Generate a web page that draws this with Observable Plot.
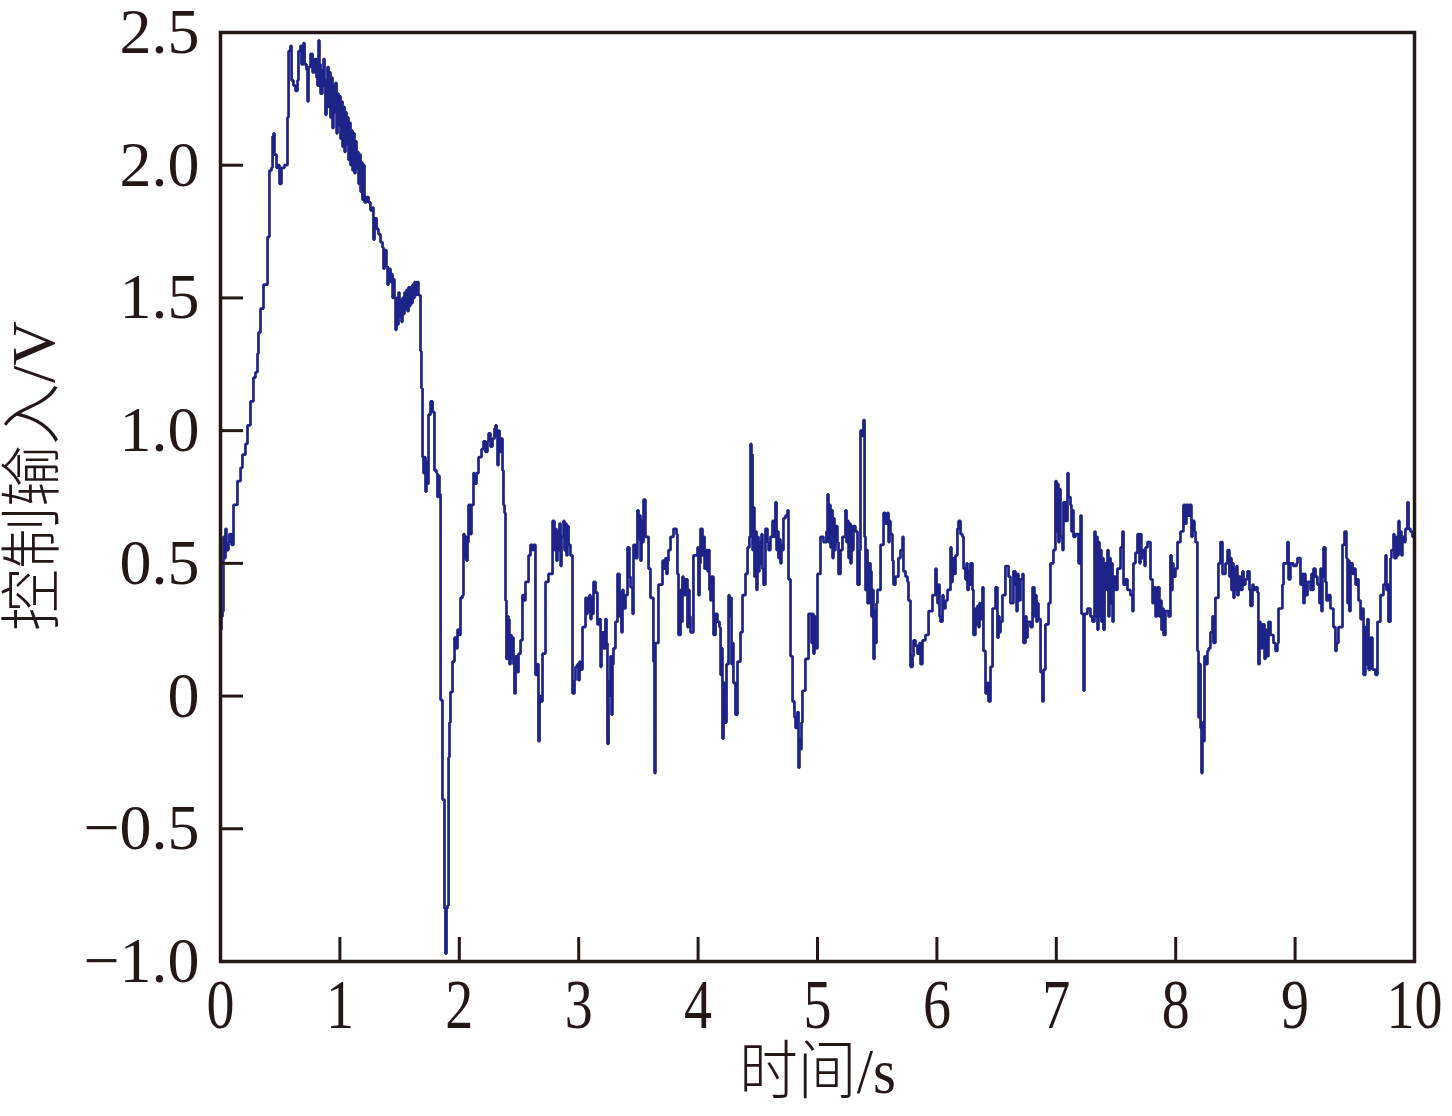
<!DOCTYPE html>
<html>
<head>
<meta charset="utf-8">
<script src="https://cdn.jsdelivr.net/npm/d3@7"></script>
<script src="https://cdn.jsdelivr.net/npm/@observablehq/plot@0.6"></script>
<style>
  html, body { margin: 0; padding: 0; background: #ffffff; overflow: hidden; }
  #chart svg { display: block; overflow: visible; }
</style>
</head>
<body>
<div id="chart"></div>
<script>
// time (s)
const time = [
  0,0.008,0.017,0.025,0.034,0.042,0.050,0.067,0.075,0.092,
  0.109,0.142,0.168,0.184,0.209,0.226,0.251,0.276,0.293,0.310,
  0.318,0.335,0.360,0.394,0.410,0.427,0.436,0.444,0.452,0.469,
  0.477,0.494,0.511,0.536,0.561,0.570,0.586,0.595,0.611,0.628,
  0.645,0.653,0.670,0.678,0.695,0.704,0.720,0.729,0.737,0.754,
  0.771,0.787,0.804,0.812,0.821,0.829,0.838,0.854,0.863,0.871,
  0.879,0.888,0.896,0.905,0.913,0.921,0.930,0.938,0.946,0.955,
  0.963,0.972,0.980,0.988,0.997,1.005,1.013,1.022,1.030,1.039,
  1.047,1.055,1.064,1.072,1.080,1.089,1.097,1.106,1.114,1.122,
  1.131,1.139,1.147,1.156,1.164,1.173,1.181,1.189,1.198,1.206,
  1.223,1.240,1.256,1.273,1.281,1.290,1.307,1.323,1.340,1.357,
  1.365,1.374,1.390,1.399,1.407,1.424,1.432,1.441,1.449,1.457,
  1.466,1.474,1.482,1.491,1.499,1.508,1.516,1.524,1.533,1.541,
  1.549,1.558,1.566,1.575,1.583,1.591,1.600,1.608,1.616,1.625,
  1.633,1.642,1.658,1.675,1.683,1.692,1.700,1.709,1.717,1.725,
  1.734,1.742,1.759,1.776,1.792,1.809,1.817,1.826,1.834,1.843,
  1.859,1.876,1.884,1.893,1.901,1.910,1.918,1.926,1.943,1.960,
  1.977,1.985,2.002,2.010,2.027,2.035,2.044,2.052,2.060,2.069,
  2.077,2.094,2.102,2.119,2.127,2.144,2.161,2.186,2.203,2.219,
  2.236,2.245,2.261,2.278,2.295,2.303,2.312,2.320,2.328,2.337,
  2.345,2.362,2.370,2.379,2.387,2.395,2.404,2.412,2.420,2.429,
  2.437,2.446,2.454,2.462,2.471,2.487,2.496,2.513,2.529,2.538,
  2.554,2.580,2.596,2.613,2.621,2.638,2.655,2.663,2.672,2.680,
  2.697,2.722,2.747,2.781,2.797,2.806,2.814,2.822,2.831,2.839,
  2.848,2.856,2.873,2.881,2.889,2.898,2.906,2.915,2.931,2.948,
  2.965,2.973,2.990,2.998,3.007,3.015,3.032,3.057,3.065,3.074,
  3.082,3.090,3.099,3.107,3.116,3.124,3.141,3.157,3.174,3.183,
  3.191,3.208,3.224,3.233,3.241,3.250,3.258,3.266,3.275,3.283,
  3.291,3.308,3.325,3.342,3.350,3.358,3.367,3.375,3.392,3.409,
  3.425,3.434,3.451,3.459,3.476,3.492,3.501,3.509,3.518,3.526,
  3.534,3.543,3.559,3.585,3.601,3.626,3.635,3.643,3.668,3.702,
  3.719,3.727,3.735,3.744,3.752,3.769,3.794,3.819,3.827,3.836,
  3.853,3.861,3.869,3.878,3.894,3.911,3.920,3.928,3.936,3.961,
  3.995,4.003,4.012,4.020,4.037,4.045,4.054,4.062,4.079,4.087,
  4.095,4.104,4.112,4.129,4.146,4.162,4.179,4.188,4.196,4.204,
  4.213,4.229,4.238,4.255,4.263,4.271,4.280,4.288,4.296,4.313,
  4.330,4.355,4.372,4.397,4.414,4.430,4.439,4.447,4.456,4.464,
  4.472,4.481,4.489,4.497,4.506,4.514,4.523,4.531,4.539,4.548,
  4.564,4.581,4.590,4.606,4.623,4.640,4.648,4.657,4.665,4.673,
  4.682,4.690,4.698,4.707,4.715,4.732,4.749,4.757,4.774,4.791,
  4.807,4.816,4.832,4.841,4.849,4.858,4.866,4.874,4.899,4.925,
  4.950,4.958,4.966,4.975,4.983,5.000,5.025,5.050,5.075,5.084,
  5.092,5.100,5.109,5.117,5.126,5.134,5.142,5.151,5.167,5.176,
  5.193,5.209,5.234,5.243,5.251,5.260,5.268,5.276,5.285,5.293,
  5.301,5.318,5.335,5.352,5.360,5.377,5.385,5.394,5.402,5.410,
  5.419,5.435,5.444,5.452,5.461,5.469,5.477,5.486,5.494,5.502,
  5.528,5.553,5.569,5.586,5.595,5.603,5.611,5.628,5.636,5.653,
  5.678,5.695,5.712,5.720,5.737,5.754,5.762,5.779,5.796,5.804,
  5.821,5.837,5.854,5.863,5.879,5.904,5.930,5.963,5.988,5.997,
  6.005,6.013,6.022,6.030,6.047,6.055,6.072,6.089,6.114,6.122,
  6.131,6.139,6.156,6.172,6.181,6.198,6.214,6.223,6.239,6.248,
  6.256,6.265,6.273,6.281,6.298,6.306,6.323,6.332,6.340,6.348,
  6.357,6.365,6.382,6.390,6.407,6.424,6.432,6.449,6.466,6.491,
  6.507,6.516,6.524,6.533,6.549,6.574,6.600,6.616,6.641,6.658,
  6.667,6.675,6.683,6.700,6.717,6.725,6.742,6.750,6.759,6.784,
  6.801,6.817,6.826,6.834,6.842,6.851,6.868,6.884,6.893,6.909,
  6.935,6.951,6.976,6.993,7.002,7.010,7.018,7.027,7.035,7.052,
  7.060,7.077,7.094,7.102,7.119,7.127,7.136,7.144,7.161,7.186,
  7.203,7.211,7.228,7.236,7.261,7.286,7.303,7.320,7.328,7.337,
  7.345,7.353,7.362,7.370,7.378,7.387,7.395,7.404,7.420,7.429,
  7.437,7.445,7.454,7.462,7.471,7.479,7.496,7.512,7.538,7.554,
  7.563,7.579,7.596,7.621,7.638,7.646,7.663,7.680,7.697,7.705,
  7.713,7.730,7.739,7.747,7.764,7.789,7.806,7.814,7.831,7.847,
  7.864,7.873,7.881,7.889,7.898,7.914,7.940,7.956,7.965,7.973,
  7.981,7.998,8.015,8.040,8.065,8.082,8.090,8.107,8.115,8.132,
  8.141,8.157,8.166,8.182,8.191,8.199,8.208,8.216,8.224,8.233,
  8.241,8.249,8.266,8.275,8.291,8.308,8.316,8.333,8.358,8.375,
  8.392,8.417,8.434,8.450,8.459,8.467,8.476,8.484,8.492,8.501,
  8.509,8.517,8.526,8.543,8.559,8.568,8.584,8.601,8.618,8.626,
  8.643,8.651,8.668,8.685,8.693,8.702,8.710,8.727,8.744,8.752,
  8.760,8.777,8.794,8.819,8.836,8.852,8.861,8.894,8.903,8.936,
  8.945,8.961,8.986,9.012,9.020,9.045,9.062,9.070,9.079,9.087,
  9.104,9.129,9.137,9.146,9.154,9.171,9.187,9.204,9.213,9.221,
  9.229,9.238,9.254,9.263,9.280,9.296,9.321,9.338,9.347,9.363,
  9.397,9.414,9.430,9.439,9.447,9.455,9.464,9.481,9.489,9.506,
  9.522,9.531,9.548,9.564,9.573,9.589,9.598,9.606,9.615,9.631,
  9.648,9.673,9.690,9.715,9.740,9.757,9.765,9.774,9.782,9.799,
  9.807,9.824,9.832,9.849,9.857,9.866,9.874,9.883,9.891,9.899,
  9.916,9.924,9.941,9.950,9.966,9.983,10.0
];
// control input (V)
const voltage = [
  0.25,0.30,0.32,0.60,0.52,0.63,0.55,0.58,0.61,0.57,
  0.72,0.81,0.86,0.91,0.95,1.02,1.11,1.20,1.22,1.29,
  1.37,1.46,1.55,1.73,1.98,1.99,2.11,2.12,2.04,1.99,
  2.00,1.93,1.99,2.00,2.18,2.43,2.45,2.32,2.30,2.28,
  2.32,2.43,2.45,2.38,2.46,2.38,2.36,2.24,2.37,2.42,
  2.35,2.40,2.33,2.30,2.47,2.38,2.27,2.36,2.40,2.30,
  2.19,2.32,2.37,2.22,2.35,2.18,2.33,2.14,2.30,2.20,
  2.31,2.12,2.27,2.15,2.26,2.10,2.24,2.07,2.22,2.05,
  2.20,2.08,2.18,2.02,2.16,2.00,2.13,1.98,2.12,1.97,
  2.09,1.99,2.05,1.93,2.04,1.90,2.01,1.87,2.00,1.86,
  1.88,1.86,1.83,1.84,1.72,1.80,1.76,1.74,1.71,1.69,
  1.61,1.68,1.62,1.55,1.61,1.56,1.59,1.50,1.57,1.50,
  1.38,1.50,1.40,1.52,1.43,1.49,1.41,1.50,1.44,1.52,
  1.46,1.53,1.45,1.54,1.47,1.54,1.48,1.55,1.50,1.56,
  1.51,1.56,1.51,1.30,1.16,0.90,0.84,0.90,0.77,0.88,
  0.80,1.06,1.11,1.07,0.85,0.84,0.75,0.83,0.76,-0.015,
  -0.39,-0.80,-0.97,-0.80,-0.79,-0.23,-0.10,0.015,0.13,0.22,
  0.18,0.25,0.23,0.37,0.38,0.61,0.52,0.60,0.51,0.58,
  0.72,0.61,0.72,0.84,0.80,0.84,0.90,0.93,0.96,0.92,
  0.96,0.99,0.94,0.97,1.01,1.02,0.98,0.87,1.00,0.92,
  0.97,0.85,0.72,0.69,0.36,0.14,0.30,0.29,0.12,0.23,
  0.14,0.22,0.12,0.01,0.15,0.09,0.16,0.21,0.38,0.36,
  0.43,0.53,0.57,0.55,0.57,0.08,0.12,-0.17,0.00,-0.02,
  0.16,0.43,0.46,0.66,0.55,0.63,0.51,0.62,0.55,0.65,
  0.49,0.60,0.66,0.55,0.65,0.53,0.64,0.57,0.53,0.01,
  0.06,0.11,0.12,0.06,0.13,0.10,0.26,0.37,0.31,0.37,
  0.32,0.38,0.29,0.37,0.31,0.43,0.39,0.27,0.29,0.11,
  0.24,0.18,0.29,0.20,-0.18,0.00,0.06,0.15,-0.07,0.12,
  0.18,0.28,0.46,0.30,0.39,0.24,0.40,0.33,0.38,0.56,
  0.45,0.41,0.31,0.57,0.52,0.70,0.59,0.68,0.51,0.66,
  0.58,0.74,0.60,0.48,0.37,0.13,-0.29,0.20,0.42,0.51,
  0.48,0.52,0.46,0.51,0.55,0.60,0.63,0.61,0.46,0.23,
  0.40,0.28,0.45,0.38,0.44,0.26,0.40,0.30,0.24,0.53,
  0.56,0.38,0.50,0.63,0.53,0.60,0.48,0.55,0.47,0.55,
  0.40,0.36,0.45,0.23,0.31,0.28,0.26,0.08,0.18,-0.16,
  0.05,-0.10,0.12,0.38,0.30,0.37,0.12,0.20,0.05,-0.07,
  0.13,0.24,0.38,0.46,0.56,0.60,0.95,0.91,0.55,0.71,
  0.45,0.62,0.40,0.60,0.47,0.58,0.50,0.61,0.48,0.42,
  0.63,0.58,0.55,0.60,0.66,0.60,0.73,0.55,0.62,0.52,
  0.59,0.50,0.57,0.55,0.67,0.68,0.70,0.44,0.15,-0.02,
  -0.08,-0.12,-0.06,-0.27,-0.16,-0.20,-0.10,0.02,0.14,0.31,
  0.20,0.31,0.16,0.30,0.18,0.46,0.60,0.58,0.62,0.76,
  0.58,0.72,0.56,0.70,0.52,0.67,0.55,0.64,0.58,0.46,
  0.55,0.60,0.70,0.58,0.66,0.52,0.65,0.50,0.64,0.55,
  0.64,0.62,0.42,0.55,1.00,0.98,1.04,0.60,0.40,0.55,
  0.35,0.50,0.47,0.30,0.40,0.14,0.32,0.20,0.35,0.40,
  0.57,0.69,0.65,0.69,0.58,0.66,0.61,0.51,0.42,0.45,
  0.52,0.55,0.60,0.47,0.45,0.43,0.36,0.11,0.15,0.21,
  0.19,0.16,0.20,0.12,0.21,0.23,0.32,0.38,0.48,0.39,
  0.35,0.42,0.30,0.28,0.38,0.33,0.36,0.40,0.56,0.43,
  0.52,0.46,0.53,0.63,0.66,0.61,0.60,0.48,0.44,0.50,
  0.40,0.47,0.42,0.50,0.40,0.23,0.33,0.27,0.34,0.26,
  0.35,0.29,0.41,0.17,0.01,0.05,-0.02,0.11,0.33,0.41,
  0.22,0.30,0.24,0.28,0.38,0.49,0.45,0.35,0.47,0.42,
  0.32,0.46,0.36,0.44,0.46,0.20,0.30,0.22,0.28,0.26,
  0.41,0.30,0.38,0.28,0.35,0.29,0.09,-0.02,0.10,0.27,
  0.35,0.50,0.55,0.81,0.62,0.80,0.58,0.78,0.60,0.55,
  0.73,0.66,0.84,0.75,0.72,0.62,0.70,0.60,0.61,0.50,
  0.68,0.31,0.02,0.31,0.33,0.30,0.28,0.62,0.30,0.60,
  0.25,0.58,0.30,0.55,0.28,0.52,0.25,0.50,0.40,0.55,
  0.30,0.52,0.35,0.50,0.28,0.45,0.40,0.48,0.56,0.62,
  0.42,0.44,0.40,0.38,0.32,0.50,0.54,0.61,0.50,0.61,
  0.52,0.55,0.49,0.56,0.58,0.44,0.35,0.41,0.30,0.41,
  0.30,0.36,0.25,0.33,0.23,0.32,0.30,0.53,0.40,0.50,
  0.45,0.48,0.58,0.62,0.72,0.65,0.72,0.68,0.72,0.60,
  0.66,0.62,0.58,0.17,-0.08,0.12,-0.12,-0.29,-0.10,-0.17,
  0.15,0.12,0.17,0.18,0.24,0.30,0.20,0.37,0.50,0.58,
  0.46,0.50,0.55,0.45,0.52,0.40,0.50,0.37,0.48,0.40,
  0.49,0.38,0.45,0.40,0.47,0.42,0.44,0.47,0.40,0.34,
  0.42,0.40,0.41,0.39,0.12,0.28,0.18,0.27,0.14,0.25,
  0.15,0.28,0.23,0.20,0.17,0.20,0.33,0.42,0.50,0.58,
  0.44,0.50,0.49,0.50,0.52,0.42,0.46,0.35,0.46,0.38,
  0.43,0.40,0.46,0.40,0.48,0.45,0.42,0.35,0.48,0.32,
  0.45,0.56,0.43,0.36,0.38,0.33,0.26,0.17,0.20,0.26,
  0.57,0.62,0.52,0.35,0.51,0.32,0.50,0.46,0.48,0.42,
  0.44,0.36,0.29,0.33,0.08,0.26,0.12,0.29,0.10,0.22,
  0.10,0.08,0.28,0.38,0.42,0.53,0.40,0.42,0.28,0.52,
  0.55,0.61,0.52,0.60,0.53,0.66,0.54,0.62,0.53,0.60,
  0.58,0.63,0.73,0.63,0.62,0.60,0.60
];
const xTicks = [0, 1, 2, 3, 4, 5, 6, 7, 8, 9, 10];
const yTicks = [-1.0, -0.5, 0, 0.5, 1.0, 1.5, 2.0, 2.5];
const xLabel = "时间/s";
const yLabel = "控制输入/V";

const samples = time.map((t, i) => ({t, v: voltage[i]}));
const ink = "#231815";
const lineColor = "#1e2388";
const serif = "'Liberation Serif','Times New Roman','Noto Sans CJK SC',serif";
const W = 1452, H = 1116, mL = 220, mR = 38, mT = 32, mB = 155;
const fmtY = d => d === 0 ? "0" : (d < 0 ? "\u2212" : "") + Math.abs(d).toFixed(1);

const chart = Plot.plot({
  width: W, height: H,
  marginLeft: mL, marginRight: mR, marginTop: mT, marginBottom: mB,
  style: {fontFamily: serif, background: "#ffffff", color: ink, overflow: "visible"},
  x: {domain: [0, 10]},
  y: {domain: [-1, 2.5]},
  marks: [
    Plot.lineY(samples, {x: "t", y: "v", curve: "step-after", stroke: lineColor, strokeWidth: 2.7, strokeLinejoin: "miter"}),
    Plot.ruleX(xTicks, {stroke: ink, strokeWidth: 3, insetTop: (H - mT - mB) - 24}),
    Plot.ruleY(yTicks, {stroke: ink, strokeWidth: 3, insetRight: (W - mL - mR) - 23}),
    Plot.frame({stroke: ink, strokeWidth: 3.5}),
    Plot.axisX(xTicks, {tickSize: 0, tickPadding: 17, fontSize: 70, label: null, tickFormat: d => String(d)}),
    Plot.axisY(yTicks, {tickSize: 0, tickPadding: 21, fontSize: 64, label: null, tickFormat: fmtY}),
    Plot.text([xLabel], {text: d => d, frameAnchor: "bottom", lineAnchor: "middle", textAnchor: "middle", dy: 111, fontSize: 64, fontWeight: 300, fill: ink}),
    Plot.text([yLabel], {text: d => d, frameAnchor: "left", lineAnchor: "middle", textAnchor: "middle", rotate: -90, dx: -186, dy: -21, fontSize: 62, fontWeight: 300, fill: ink})
  ]
});
document.getElementById("chart").appendChild(chart);

// horizontally condense the x-axis texts, as in the original typesetting
function condense(el, k) {
  const w = el.getComputedTextLength();
  if (w > 0) {
    el.setAttribute("textLength", (w * k).toFixed(1));
    el.setAttribute("lengthAdjust", "spacingAndGlyphs");
  }
}
chart.querySelectorAll('g[aria-label="x-axis tick label"] text').forEach(t => condense(t, 0.8));
const xl = [...chart.querySelectorAll('g[aria-label="text"] text')].find(t => t.textContent === xLabel);
if (xl) condense(xl, 0.92);
</script>
</body>
</html>
